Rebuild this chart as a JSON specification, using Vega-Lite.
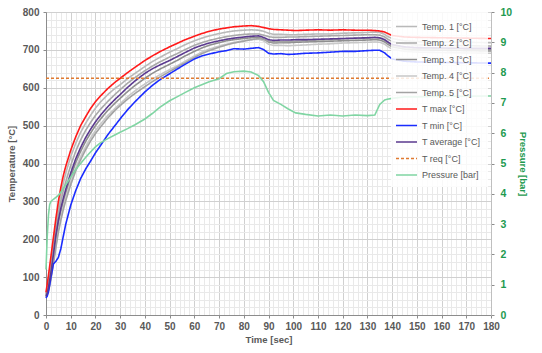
{
  "$schema": "https://vega.github.io/schema/vega-lite/v6.json",
  "width": 445,
  "height": 303,
  "autosize": "none",
  "padding": {"left": 46, "top": 12, "right": 51, "bottom": 38},
  "config": {
    "font": "Liberation Sans",
    "view": {"stroke": "#d9d9d9"},
    "axis": {"labelFont": "Liberation Sans", "titleFont": "Liberation Sans"}
  },
  "data": {"values": [
    {"t":0,"T1":55,"T2":52,"T3":48,"T4":47,"T5":46,"Tmax":60,"Tmin":45,"Tavg":50,"Treq":625,"P":1.5},
    {"t":0.5,"T1":75,"T2":66,"T3":56,"T4":54,"T5":53,"Tmax":82,"Tmin":50,"Tavg":58,"Treq":625,"P":2.6},
    {"t":1,"T1":95,"T2":85,"T3":68,"T4":65,"T5":63,"Tmax":105,"Tmin":62,"Tavg":72,"Treq":625,"P":3.3},
    {"t":1.5,"T1":118,"T2":106,"T3":86,"T4":80,"T5":78,"Tmax":130,"Tmin":80,"Tavg":92,"Treq":625,"P":3.65},
    {"t":2,"T1":140,"T2":128,"T3":105,"T4":98,"T5":95,"Tmax":155,"Tmin":100,"Tavg":112,"Treq":625,"P":3.75},
    {"t":3,"T1":190,"T2":178,"T3":150,"T4":140,"T5":135,"Tmax":205,"Tmin":135,"Tavg":160,"Treq":625,"P":3.82},
    {"t":4,"T1":240,"T2":228,"T3":198,"T4":185,"T5":178,"Tmax":255,"Tmin":142,"Tavg":210,"Treq":625,"P":3.88},
    {"t":5,"T1":283,"T2":268,"T3":240,"T4":225,"T5":218,"Tmax":300,"Tmin":152,"Tavg":250,"Treq":625,"P":3.95},
    {"t":6,"T1":318,"T2":300,"T3":272,"T4":258,"T5":250,"Tmax":337,"Tmin":175,"Tavg":282,"Treq":625,"P":4.05},
    {"t":7,"T1":348,"T2":328,"T3":298,"T4":286,"T5":278,"Tmax":368,"Tmin":208,"Tavg":308,"Treq":625,"P":4.18},
    {"t":8,"T1":375,"T2":352,"T3":322,"T4":310,"T5":302,"Tmax":393,"Tmin":240,"Tavg":332,"Treq":625,"P":4.3},
    {"t":10,"T1":418,"T2":395,"T3":365,"T4":352,"T5":344,"Tmax":435,"Tmin":290,"Tavg":375,"Treq":625,"P":4.55},
    {"t":12,"T1":453,"T2":432,"T3":402,"T4":388,"T5":380,"Tmax":470,"Tmin":328,"Tavg":412,"Treq":625,"P":4.8},
    {"t":14,"T1":482,"T2":462,"T3":432,"T4":418,"T5":410,"Tmax":500,"Tmin":360,"Tavg":442,"Treq":625,"P":5.0},
    {"t":16,"T1":506,"T2":487,"T3":458,"T4":444,"T5":436,"Tmax":523,"Tmin":385,"Tavg":468,"Treq":625,"P":5.2},
    {"t":18,"T1":527,"T2":508,"T3":480,"T4":467,"T5":459,"Tmax":545,"Tmin":406,"Tavg":490,"Treq":625,"P":5.38},
    {"t":20,"T1":546,"T2":527,"T3":500,"T4":487,"T5":479,"Tmax":563,"Tmin":428,"Tavg":510,"Treq":625,"P":5.55},
    {"t":22,"T1":562,"T2":543,"T3":517,"T4":504,"T5":496,"Tmax":578,"Tmin":447,"Tavg":527,"Treq":625,"P":5.68},
    {"t":25,"T1":582,"T2":564,"T3":540,"T4":527,"T5":520,"Tmax":598,"Tmin":476,"Tavg":550,"Treq":625,"P":5.82},
    {"t":28,"T1":599,"T2":583,"T3":560,"T4":546,"T5":541,"Tmax":615,"Tmin":501,"Tavg":570,"Treq":625,"P":5.95},
    {"t":30,"T1":608,"T2":595,"T3":572,"T4":558,"T5":553,"Tmax":625,"Tmin":518,"Tavg":582,"Treq":625,"P":6.03},
    {"t":33,"T1":624,"T2":612,"T3":590,"T4":576,"T5":570,"Tmax":640,"Tmin":542,"Tavg":601,"Treq":625,"P":6.15},
    {"t":36,"T1":638,"T2":627,"T3":606,"T4":592,"T5":585,"Tmax":654,"Tmin":563,"Tavg":618,"Treq":625,"P":6.28},
    {"t":40,"T1":656,"T2":645,"T3":625,"T4":610,"T5":603,"Tmax":672,"Tmin":589,"Tavg":638,"Treq":625,"P":6.47},
    {"t":43,"T1":669,"T2":657,"T3":638,"T4":623,"T5":616,"Tmax":684,"Tmin":606,"Tavg":650,"Treq":625,"P":6.65},
    {"t":46,"T1":680,"T2":668,"T3":649,"T4":634,"T5":628,"Tmax":695,"Tmin":621,"Tavg":660,"Treq":625,"P":6.85},
    {"t":50,"T1":694,"T2":681,"T3":662,"T4":648,"T5":643,"Tmax":708,"Tmin":637,"Tavg":672,"Treq":625,"P":7.07},
    {"t":53,"T1":703,"T2":690,"T3":672,"T4":658,"T5":654,"Tmax":717,"Tmin":649,"Tavg":682,"Treq":625,"P":7.2},
    {"t":56,"T1":713,"T2":700,"T3":683,"T4":669,"T5":665,"Tmax":726,"Tmin":661,"Tavg":692,"Treq":625,"P":7.33},
    {"t":60,"T1":724,"T2":712,"T3":696,"T4":684,"T5":680,"Tmax":736,"Tmin":676,"Tavg":705,"Treq":625,"P":7.5},
    {"t":63,"T1":731,"T2":719,"T3":705,"T4":694,"T5":690,"Tmax":743,"Tmin":684,"Tavg":712,"Treq":625,"P":7.6},
    {"t":66,"T1":737,"T2":725,"T3":712,"T4":702,"T5":698,"Tmax":749,"Tmin":689,"Tavg":718,"Treq":625,"P":7.7},
    {"t":70,"T1":743,"T2":731,"T3":719,"T4":710,"T5":707,"Tmax":755,"Tmin":695,"Tavg":724,"Treq":625,"P":7.8},
    {"t":73,"T1":747,"T2":735,"T3":724,"T4":715,"T5":713,"Tmax":758,"Tmin":698,"Tavg":728,"Treq":625,"P":7.97},
    {"t":76,"T1":750,"T2":738,"T3":727,"T4":720,"T5":718,"Tmax":761,"Tmin":703,"Tavg":731,"Treq":625,"P":8.03},
    {"t":80,"T1":752,"T2":741,"T3":730,"T4":724,"T5":723,"Tmax":763,"Tmin":702,"Tavg":734,"Treq":625,"P":8.05},
    {"t":83,"T1":753,"T2":742,"T3":732,"T4":727,"T5":727,"Tmax":764,"Tmin":704,"Tavg":736,"Treq":625,"P":8.02},
    {"t":86,"T1":752,"T2":742,"T3":733,"T4":728,"T5":730,"Tmax":762,"Tmin":706,"Tavg":737,"Treq":625,"P":7.9},
    {"t":88,"T1":749,"T2":739,"T3":729,"T4":724,"T5":728,"Tmax":759,"Tmin":701,"Tavg":733,"Treq":625,"P":7.7},
    {"t":90,"T1":744,"T2":735,"T3":721,"T4":715,"T5":723,"Tmax":756,"Tmin":691,"Tavg":727,"Treq":625,"P":7.35},
    {"t":92,"T1":741,"T2":733,"T3":718,"T4":712,"T5":721,"Tmax":754,"Tmin":689,"Tavg":725,"Treq":625,"P":7.08},
    {"t":95,"T1":741,"T2":733,"T3":719,"T4":712,"T5":721,"Tmax":753,"Tmin":690,"Tavg":726,"Treq":625,"P":6.95},
    {"t":98,"T1":740,"T2":734,"T3":719,"T4":711,"T5":722,"Tmax":752,"Tmin":688,"Tavg":726,"Treq":625,"P":6.8},
    {"t":101,"T1":740,"T2":734,"T3":720,"T4":712,"T5":723,"Tmax":751,"Tmin":689,"Tavg":727,"Treq":625,"P":6.67},
    {"t":105,"T1":741,"T2":735,"T3":721,"T4":713,"T5":724,"Tmax":752,"Tmin":691,"Tavg":727,"Treq":625,"P":6.62},
    {"t":110,"T1":742,"T2":736,"T3":722,"T4":715,"T5":726,"Tmax":753,"Tmin":692,"Tavg":728,"Treq":625,"P":6.57},
    {"t":115,"T1":742,"T2":737,"T3":723,"T4":716,"T5":727,"Tmax":752,"Tmin":694,"Tavg":729,"Treq":625,"P":6.6},
    {"t":120,"T1":744,"T2":738,"T3":724,"T4":718,"T5":729,"Tmax":753,"Tmin":696,"Tavg":730,"Treq":625,"P":6.57},
    {"t":125,"T1":745,"T2":739,"T3":725,"T4":719,"T5":730,"Tmax":752,"Tmin":696,"Tavg":731,"Treq":625,"P":6.6},
    {"t":130,"T1":746,"T2":740,"T3":726,"T4":720,"T5":731,"Tmax":752,"Tmin":698,"Tavg":732,"Treq":625,"P":6.58},
    {"t":133,"T1":747,"T2":740,"T3":727,"T4":721,"T5":732,"Tmax":751,"Tmin":699,"Tavg":733,"Treq":625,"P":6.6},
    {"t":135,"T1":746,"T2":739,"T3":726,"T4":720,"T5":731,"Tmax":750,"Tmin":699,"Tavg":732,"Treq":625,"P":6.95},
    {"t":137,"T1":741,"T2":734,"T3":721,"T4":715,"T5":725,"Tmax":747,"Tmin":692,"Tavg":727,"Treq":625,"P":7.1},
    {"t":138,"T1":736,"T2":729,"T3":716,"T4":710,"T5":719,"Tmax":744,"Tmin":686,"Tavg":722,"Treq":625,"P":7.12},
    {"t":140,"T1":730,"T2":722,"T3":708,"T4":702,"T5":712,"Tmax":738,"Tmin":676,"Tavg":714,"Treq":625,"P":7.15},
    {"t":145,"T1":724,"T2":715,"T3":702,"T4":696,"T5":706,"Tmax":734,"Tmin":670,"Tavg":708,"Treq":625,"P":7.2},
    {"t":150,"T1":722,"T2":713,"T3":700,"T4":694,"T5":704,"Tmax":733,"Tmin":668,"Tavg":706,"Treq":625,"P":7.2},
    {"t":160,"T1":721,"T2":712,"T3":699,"T4":693,"T5":703,"Tmax":732,"Tmin":667,"Tavg":705,"Treq":625,"P":7.22},
    {"t":170,"T1":720,"T2":711,"T3":698,"T4":692,"T5":702,"Tmax":731,"Tmin":666,"Tavg":704,"Treq":625,"P":7.22},
    {"t":180,"T1":719,"T2":710,"T3":697,"T4":691,"T5":701,"Tmax":730,"Tmin":665,"Tavg":704,"Treq":625,"P":7.23}
  ]},
  "encoding": {
    "x": {
      "field": "t", "type": "quantitative",
      "scale": {"domain": [0, 180], "nice": false, "zero": false},
      "axis": {
        "title": "Time [sec]",
        "values": [0,2,4,6,8,10,12,14,16,18,20,22,24,26,28,30,32,34,36,38,40,42,44,46,48,50,52,54,56,58,60,62,64,66,68,70,72,74,76,78,80,82,84,86,88,90,92,94,96,98,100,102,104,106,108,110,112,114,116,118,120,122,124,126,128,130,132,134,136,138,140,142,144,146,148,150,152,154,156,158,160,162,164,166,168,170,172,174,176,178,180],
        "labelExpr": "datum.value % 10 === 0 ? datum.label : ''",
        "labelOverlap": false,
        "labelFlush": false,
        "grid": true,
        "gridColor": {"condition": {"test": "datum.value % 10 === 0", "value": "#d0d0d0"}, "value": "#e9e9e9"},
        "tickSize": {"condition": {"test": "datum.value % 10 === 0", "value": 3}, "value": 0},
        "tickColor": "#8c8c8c",
        "domainColor": "#8c8c8c",
        "labelFontSize": 10,
        "labelFontWeight": "bold",
        "labelColor": "#595959",
        "labelPadding": 3,
        "titleFontSize": 9.5,
        "titleFontWeight": "bold",
        "titleColor": "#595959",
        "titlePadding": 3
      }
    }
  },
  "layer": [
    {
      "transform": [{"fold": ["T1","T2","T3","T4","T5","Tmax","Tmin","Tavg","Treq"], "as": ["series","value"]}],
      "mark": {"type": "line", "strokeWidth": 1.6},
      "encoding": {
        "y": {
          "field": "value", "type": "quantitative",
          "scale": {"domain": [0, 800], "nice": false},
          "axis": {
            "title": "Temperature [°C]",
            "values": [0,20,40,60,80,100,120,140,160,180,200,220,240,260,280,300,320,340,360,380,400,420,440,460,480,500,520,540,560,580,600,620,640,660,680,700,720,740,760,780,800],
            "labelExpr": "datum.value % 100 === 0 ? datum.label : ''",
            "labelOverlap": false,
            "labelFlush": false,
            "grid": true,
            "gridColor": {"condition": {"test": "datum.value % 100 === 0", "value": "#d0d0d0"}, "value": "#e9e9e9"},
            "tickSize": {"condition": {"test": "datum.value % 100 === 0", "value": 3}, "value": 0},
            "tickColor": "#8c8c8c",
            "domainColor": "#8c8c8c",
            "labelFontSize": 10,
            "labelFontWeight": "bold",
            "labelColor": "#595959",
            "labelPadding": 4,
            "titleFontSize": 9.5,
            "titleFontWeight": "bold",
            "titleColor": "#595959",
            "titlePadding": 6
          }
        },
        "color": {
          "field": "series", "type": "nominal",
          "scale": {
            "domain": ["T1","T2","T3","T4","T5","Tmax","Tmin","Tavg","Treq","P"],
            "range": ["#b9b9b9","#a9a9a9","#8f8f8f","#c8c8c8","#a3a3a3","#ff1a1a","#1a2cff","#5b3a8f","#e07a30","#80d5a3"]
          },
          "legend": {
            "title": null,
            "orient": "none",
            "legendX": 345,
            "legendY": -1,
            "padding": 7,
            "fillColor": "rgba(255,255,255,0.85)",
            "symbolType": "M-1.4,0H1.4",
            "symbolSize": 225,
            "symbolStrokeWidth": 1.6,
            "rowPadding": 2.5,
            "labelOffset": 7,
            "labelFontSize": 9,
            "labelColor": "#595959",
            "labelFont": "Liberation Sans",
            "labelExpr": "['Temp. 1 [°C]','Temp. 2 [°C]','Temp. 3 [°C]','Temp. 4 [°C]','Temp. 5 [°C]','T max [°C]','T min [°C]','T average [°C]','T req [°C]','Pressure [bar]'][indexof(['T1','T2','T3','T4','T5','Tmax','Tmin','Tavg','Treq','P'], datum.label)]"
          }
        },
        "strokeDash": {
          "field": "series", "type": "nominal",
          "scale": {
            "domain": ["T1","T2","T3","T4","T5","Tmax","Tmin","Tavg","Treq","P"],
            "range": [[1,0],[1,0],[1,0],[1,0],[1,0],[1,0],[1,0],[1,0],[3,2],[1,0]]
          },
          "legend": {"title": null}
        }
      }
    },
    {
      "transform": [{"fold": ["P"], "as": ["series","value"]}],
      "mark": {"type": "line", "strokeWidth": 1.6},
      "encoding": {
        "y": {
          "field": "value", "type": "quantitative",
          "scale": {"domain": [0, 10], "nice": false},
          "axis": {
            "orient": "right",
            "title": "Pressure [bar]",
            "values": [0,1,2,3,4,5,6,7,8,9,10],
            "grid": false,
            "tickSize": 3,
            "tickColor": "#8c8c8c",
            "domainColor": "#bfbfbf",
            "labelFontSize": 10.5,
            "labelFontWeight": "bold",
            "labelColor": "#1e9a50",
            "labelPadding": 6,
            "titleFontSize": 9.5,
            "titleFontWeight": "bold",
            "titleColor": "#1e9a50",
            "titlePadding": 6
          }
        },
        "color": {"field": "series", "type": "nominal"}
      }
    }
  ],
  "resolve": {"scale": {"y": "independent"}}
}
